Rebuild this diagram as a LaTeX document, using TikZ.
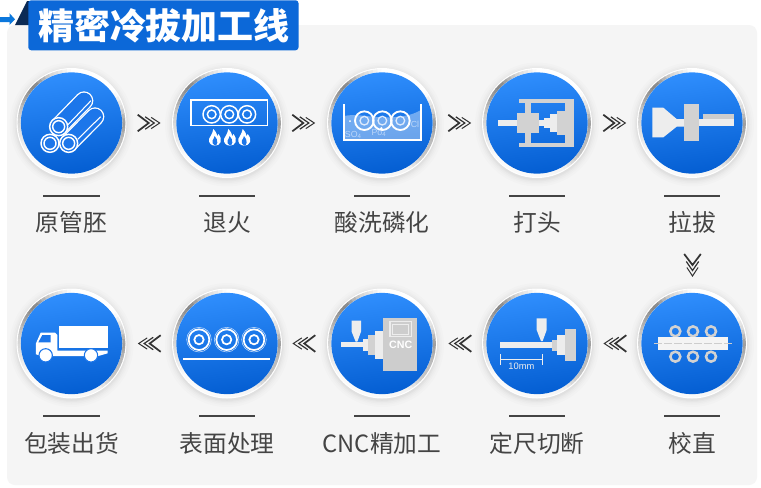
\documentclass[tikz,border=0pt]{standalone}
\usepackage{fontspec}
\setmainfont{Noto Sans CJK SC}
\newfontfamily\latinf{Liberation Sans}
\usetikzlibrary{calc}
\definecolor{panelc}{HTML}{F5F5F5}
\definecolor{titlec}{HTML}{0C68D8}
\definecolor{navyc}{HTML}{0B2A55}
\definecolor{inkc}{HTML}{444444}
\definecolor{chevc}{HTML}{333333}
\definecolor{topb}{HTML}{2F8EFD}
\definecolor{botb}{HTML}{045ED2}
\definecolor{midb}{HTML}{1C76EA}
\definecolor{grayA}{HTML}{D2D2D2}
\definecolor{grayB}{HTML}{EDEDED}
\definecolor{grayC}{HTML}{CDCDCD}
\tikzset{
  disc/.style={circle,inner sep=0pt,minimum size=76pt,top color=topb,bottom color=botb,shading angle=8},
  lab/.style={text=inkc,inner sep=0pt,font=\fontsize{17.8pt}{20pt}\selectfont},
  sepbar/.style={fill=inkc,inner sep=0pt,minimum width=42.7pt,minimum height=1.5pt},
  ringpic/.pic={
    \foreach \r/\o in {62/.01,60/.012,58.5/.015,57/.02,55.8/.025}{\fill[black,opacity=\o] (0,1.5) circle[radius=\r];}
    \fill[white] (0,0) circle[radius=55];
    \foreach \a/\b/\ga/\gb in {90/115/1/.82,115/135/.82/.52,135/150/.52/.62,150/170/.62/.8,170/190/.8/.88,190/215/.88/.98,215/270/.98/.98,270/300/.98/.95,300/320/.95/.78,320/345/.78/.72,345/360/.72/.6,360/375/.6/.84,375/395/.84/1,395/450/1/1}{
      \pgfmathtruncatemacro\n{max(1,round((\b-\a)/5))}
      \foreach \k in {1,...,\n}{
        \pgfmathsetmacro\th{\a+(\b-\a)*(\k-1)/\n}
        \pgfmathsetmacro\tj{\a+(\b-\a)*\k/\n+.6}
        \pgfmathsetmacro\gg{\ga+(\gb-\ga)*(\k-.5)/\n}
        \definecolor{ringc}{gray}{\gg}
        \draw[ringc,line width=2.2pt] (-\th:52.4) -- (-\tj:52.4);
      }
    }
  },
  chev/.pic={
    \draw[chevc,line width=1.3pt] (-11.5,-8.3) -- (-.5,0) -- (-11.5,8.3);
    \draw[chevc,line width=.9pt] (-4,-6.2) -- (5,0) -- (-4,6.2);
    \draw[chevc,line width=.75pt] (2,-5.6) -- (10.5,0) -- (2,5.6);
  },
  flame/.pic={
    \fill[white] (0,25) .. controls (-14,25) and (-20,14) .. (-18,5) .. controls (-16,-2) and (-8,-8) .. (-5,-25)
      .. controls (4,-16) and (6,-8) .. (7,-3) .. controls (9,-5) and (10,-8) .. (10,-10)
      .. controls (17,-2) and (20,8) .. (17,14) .. controls (14,21) and (8,25) .. (0,25) -- cycle;
    \fill[midb] (0,25) .. controls (-8,22) and (-9,14) .. (-7,9) .. controls (-4,5) and (-2,0) .. (-1,-4)
      .. controls (3,2) and (9,9) .. (7,16) .. controls (6,22) and (3,24) .. (0,25) -- cycle;
  },
  bullseye/.pic={
    \draw[white,line width=1.1pt] (0,0) circle[radius=26];
    \draw[white,line width=1.1pt] (0,0) circle[radius=13];
  },
}
\begin{document}
\begin{tikzpicture}[x=.75pt,y=-.75pt]
\useasboundingbox (0,0) rectangle (761,487);
\fill[white] (0,0) rectangle (761,487);
\fill[panelc,rounded corners=6pt] (7,25) rectangle (757,485);
% header
\fill[navyc] (15,25) -- (27,1) -- (29,1) -- (29,25) -- cycle;
\fill[titlec!90!cyan] (0,17) -- (9.5,17) -- (9.5,13.2) -- (15,19.3) -- (9.5,25) -- (9.5,22) -- (0,22) -- cycle;
\node (titlebox) [fill=titlec,rounded corners=2.2pt,inner sep=0pt,minimum width=202.7pt,minimum height=37.5pt,anchor=north west] at (28,0) {};
\node (titletext) [text=white,inner sep=0pt,font=\fontsize{27pt}{30pt}\selectfont\bfseries] at (164,25.5) {精密冷拔加工线};
% stations
\foreach \i/\x/\y/\t in {1/71.5/123/原管胚,2/227/123/退火,3/382/123/酸洗磷化,4/537/123/打头,5/692/123/拉拔,
    6/71.5/343.5/包装出货,7/227/343.5/表面处理,8/382/343.5/CNC精加工,9/537/343.5/定尺切断,10/692/343.5/校直}{
  \pic at (\x,\y) {ringpic};
  \node (disc\i) [disc] at (\x,\y) {};
  \node (bar\i) [sepbar] at (\x,\y+72.5) {};
  \node (label\i) [lab] at (\x,\y+99.5) {\t};
}
% chevrons
\foreach \x in {149.2,303.8,459.8,614.8}{
  \pic at (\x,123) {chev};
  \pic[rotate=180] at (\x,343.5) {chev};
}
\pic[rotate=-90] at (692.5,265.5) {chev};
% icon 1 tubes
\begin{scope}[shift={(10,60)},scale=1/3]
  \draw[white,line width=14pt,line cap=round] (176,250) -- (255,170);
  \draw[midb,line width=12pt,line cap=round] (176,250) -- (255,170);
  \draw[white,line width=.8pt] (203,238) -- (272,170);
  \draw[white,line width=14pt,line cap=round] (146,200) -- (222,122);
  \draw[midb,line width=12pt,line cap=round] (146,200) -- (222,122);
  \draw[white,line width=.8pt] (172,196) -- (243,122);
  \foreach \p in {(146,200),(120,250),(176,250)}{
    \draw[white,line width=1.1pt,fill=midb] \p circle[radius=27];
    \draw[white,line width=1.1pt] \p circle[radius=18];
  }
\end{scope}
% icon 2 furnace
\begin{scope}[shift={(165,60)},scale=1/3]
  \draw[white,line width=1.2pt] (78,120) rectangle (307,197);
  \foreach \x in {140,193,246}{\pic[scale=1/3] at (\x,163) {bullseye};}
  \foreach \x in {150,195,238}{\pic[scale=1/3] at (\x,232) {flame};}
\end{scope}
% icon 3 bath
\begin{scope}[shift={(320,60)},scale=1/3]
  \fill[white,opacity=.38] (72,168) .. controls (110,160) and (150,172) .. (190,172) .. controls (230,172) and (270,170) .. (303,150) -- (303,240) -- (72,240) -- cycle;
  \draw[white,line width=1.2pt] (72,133) -- (72,240) -- (303,240) -- (303,133);
  \foreach \x in {133,187,241}{
    \draw[white,line width=1.4pt] (\x,182) circle[radius=28];
    \draw[white!85!midb,line width=1pt] (\x,182) circle[radius=13];
  }
  \fill[white] (90,183) circle[radius=3];
  \fill[white] (184,205) circle[radius=4];
  \node (so) [text=white!70!midb,inner sep=0pt,font=\latinf\fontsize{6.6pt}{7pt}\selectfont] at (100,224) {SO\textsubscript{4}};
  \node (po) [text=white!70!midb,inner sep=0pt,font=\latinf\fontsize{6.6pt}{7pt}\selectfont] at (177,219) {Po\textsubscript{4}};
  \node (cl) [text=white!70!midb,inner sep=0pt,font=\latinf\fontsize{6.6pt}{7pt}\selectfont] at (285,193) {Cl};
\end{scope}
% icon 4 upsetting
\begin{scope}[shift={(310,50)},scale=1/3]
  \fill[grayA] (765,148) rectangle (792,290);
  \fill[grayA] (627,148) rectangle (765,160);
  \fill[grayA] (627,278) rectangle (765,290);
  \fill[grayA] (645,160) rectangle (662,278);
  \fill[grayA] (620,190) rectangle (686,248);
  \fill[grayB] (565,211) rectangle (620,227);
  \fill[grayB] (686,211) rectangle (703,227);
  \fill[grayB] (703,205) rectangle (720,233);
  \fill[grayB] (720,193) rectangle (742,245);
  \fill[grayA] (742,182) rectangle (765,256);
\end{scope}
% icon 5 drawing
\begin{scope}[shift={(310,50)},scale=1/3]
  \fill[grayB] (1027,173) -- (1060,173) -- (1100,207) -- (1125,207) -- (1125,230) -- (1100,230) -- (1060,262) -- (1027,262) -- cycle;
  \fill[grayB] (1167,207) rectangle (1272,229);
  \fill[grayC] (1178,192) rectangle (1272,207);
  \fill[grayA] (1122,162) rectangle (1167,272);
\end{scope}
% icon 10 straightening
\begin{scope}[shift={(635,285)},scale=1/3]
  \foreach \x in {121,174,228}{
    \draw[grayA,line width=1.9pt] (\x,139) circle[radius=15];
    \draw[grayA,line width=1.9pt] (\x,215) circle[radius=15];
  }
  \fill[grayB!60!white] (70,157) rectangle (278,196);
  \draw[grayC,line width=.7pt,dash pattern=on 6pt off 1.5pt] (57,176) -- (292,176);
\end{scope}
% icon 9 cutting
\begin{scope}[shift={(480,285)},scale=1/3]
  \fill[grayB] (60,172) rectangle (215,190);
  \fill[grayB] (170,100) -- (200,100) -- (200,135) -- (188,168) -- (183,168) -- (170,135) -- cycle;
  \fill[grayA] (215,165) rectangle (232,198);
  \fill[grayB] (232,150) rectangle (255,210);
  \fill[grayA] (255,133) rectangle (288,228);
  \draw[grayB,line width=.6pt] (62,208) -- (62,240) (186,208) -- (186,240) (62,222) -- (186,222);
  \node (mm) [text=grayB,inner sep=0pt,font=\latinf\fontsize{7pt}{8pt}\selectfont] at (124,244) {10mm};
\end{scope}
% icon 8 CNC
\begin{scope}[shift={(325,285)},scale=1/3]
  \fill[grayB] (48,170) rectangle (115,187);
  \fill[grayB] (80,107) -- (108,107) -- (108,140) -- (97,170) -- (92,170) -- (80,140) -- cycle;
  \fill[grayB] (113,163) rectangle (130,197);
  \fill[grayA] (128,150) rectangle (150,210);
  \fill[grayB] (150,138) rectangle (175,222);
  \fill[grayC] (175,100) rectangle (275,257);
  \draw[grayB,line width=.8pt] (195,110) rectangle (260,155);
  \draw[grayB,line width=.6pt] (203,118) rectangle (250,148);
  \node (cnc) [text=white,inner sep=0pt,font=\latinf\fontsize{8pt}{9pt}\selectfont\bfseries] at (227,180) {CNC};
\end{scope}
% icon 7 surface treatment
\begin{scope}[shift={(0,280)},scale=1/3]
  \foreach \x in {597,680,762}{
    \draw[white!75!midb,line width=.4pt] (\x,179) circle[radius=37];
    \draw[white,line width=1.3pt] (\x,179) circle[radius=31];
    \draw[white,line width=1.3pt] (\x,179) circle[radius=14];
  }
  \fill[white] (549,233) rectangle (810,239);
\end{scope}
% icon 6 truck
\begin{scope}[shift={(10,285)},scale=1/3]
  \fill[white] (148,123) rectangle (293,190);
  \fill[white] (78,208) -- (78,175) -- (92,143) -- (135,143) -- (142,150) -- (142,197) -- (293,197) -- (293,205) -- (265,213) -- (125,213) -- (95,213) -- cycle;
  \fill[midb] (97,150) -- (122,150) -- (122,172) -- (85,172) -- cycle;
  \draw[midb,line width=.8pt,fill=white] (107,211) circle[radius=20];
  \draw[midb,line width=.8pt,fill=white] (243,211) circle[radius=20];
\end{scope}
\end{tikzpicture}
\end{document}
